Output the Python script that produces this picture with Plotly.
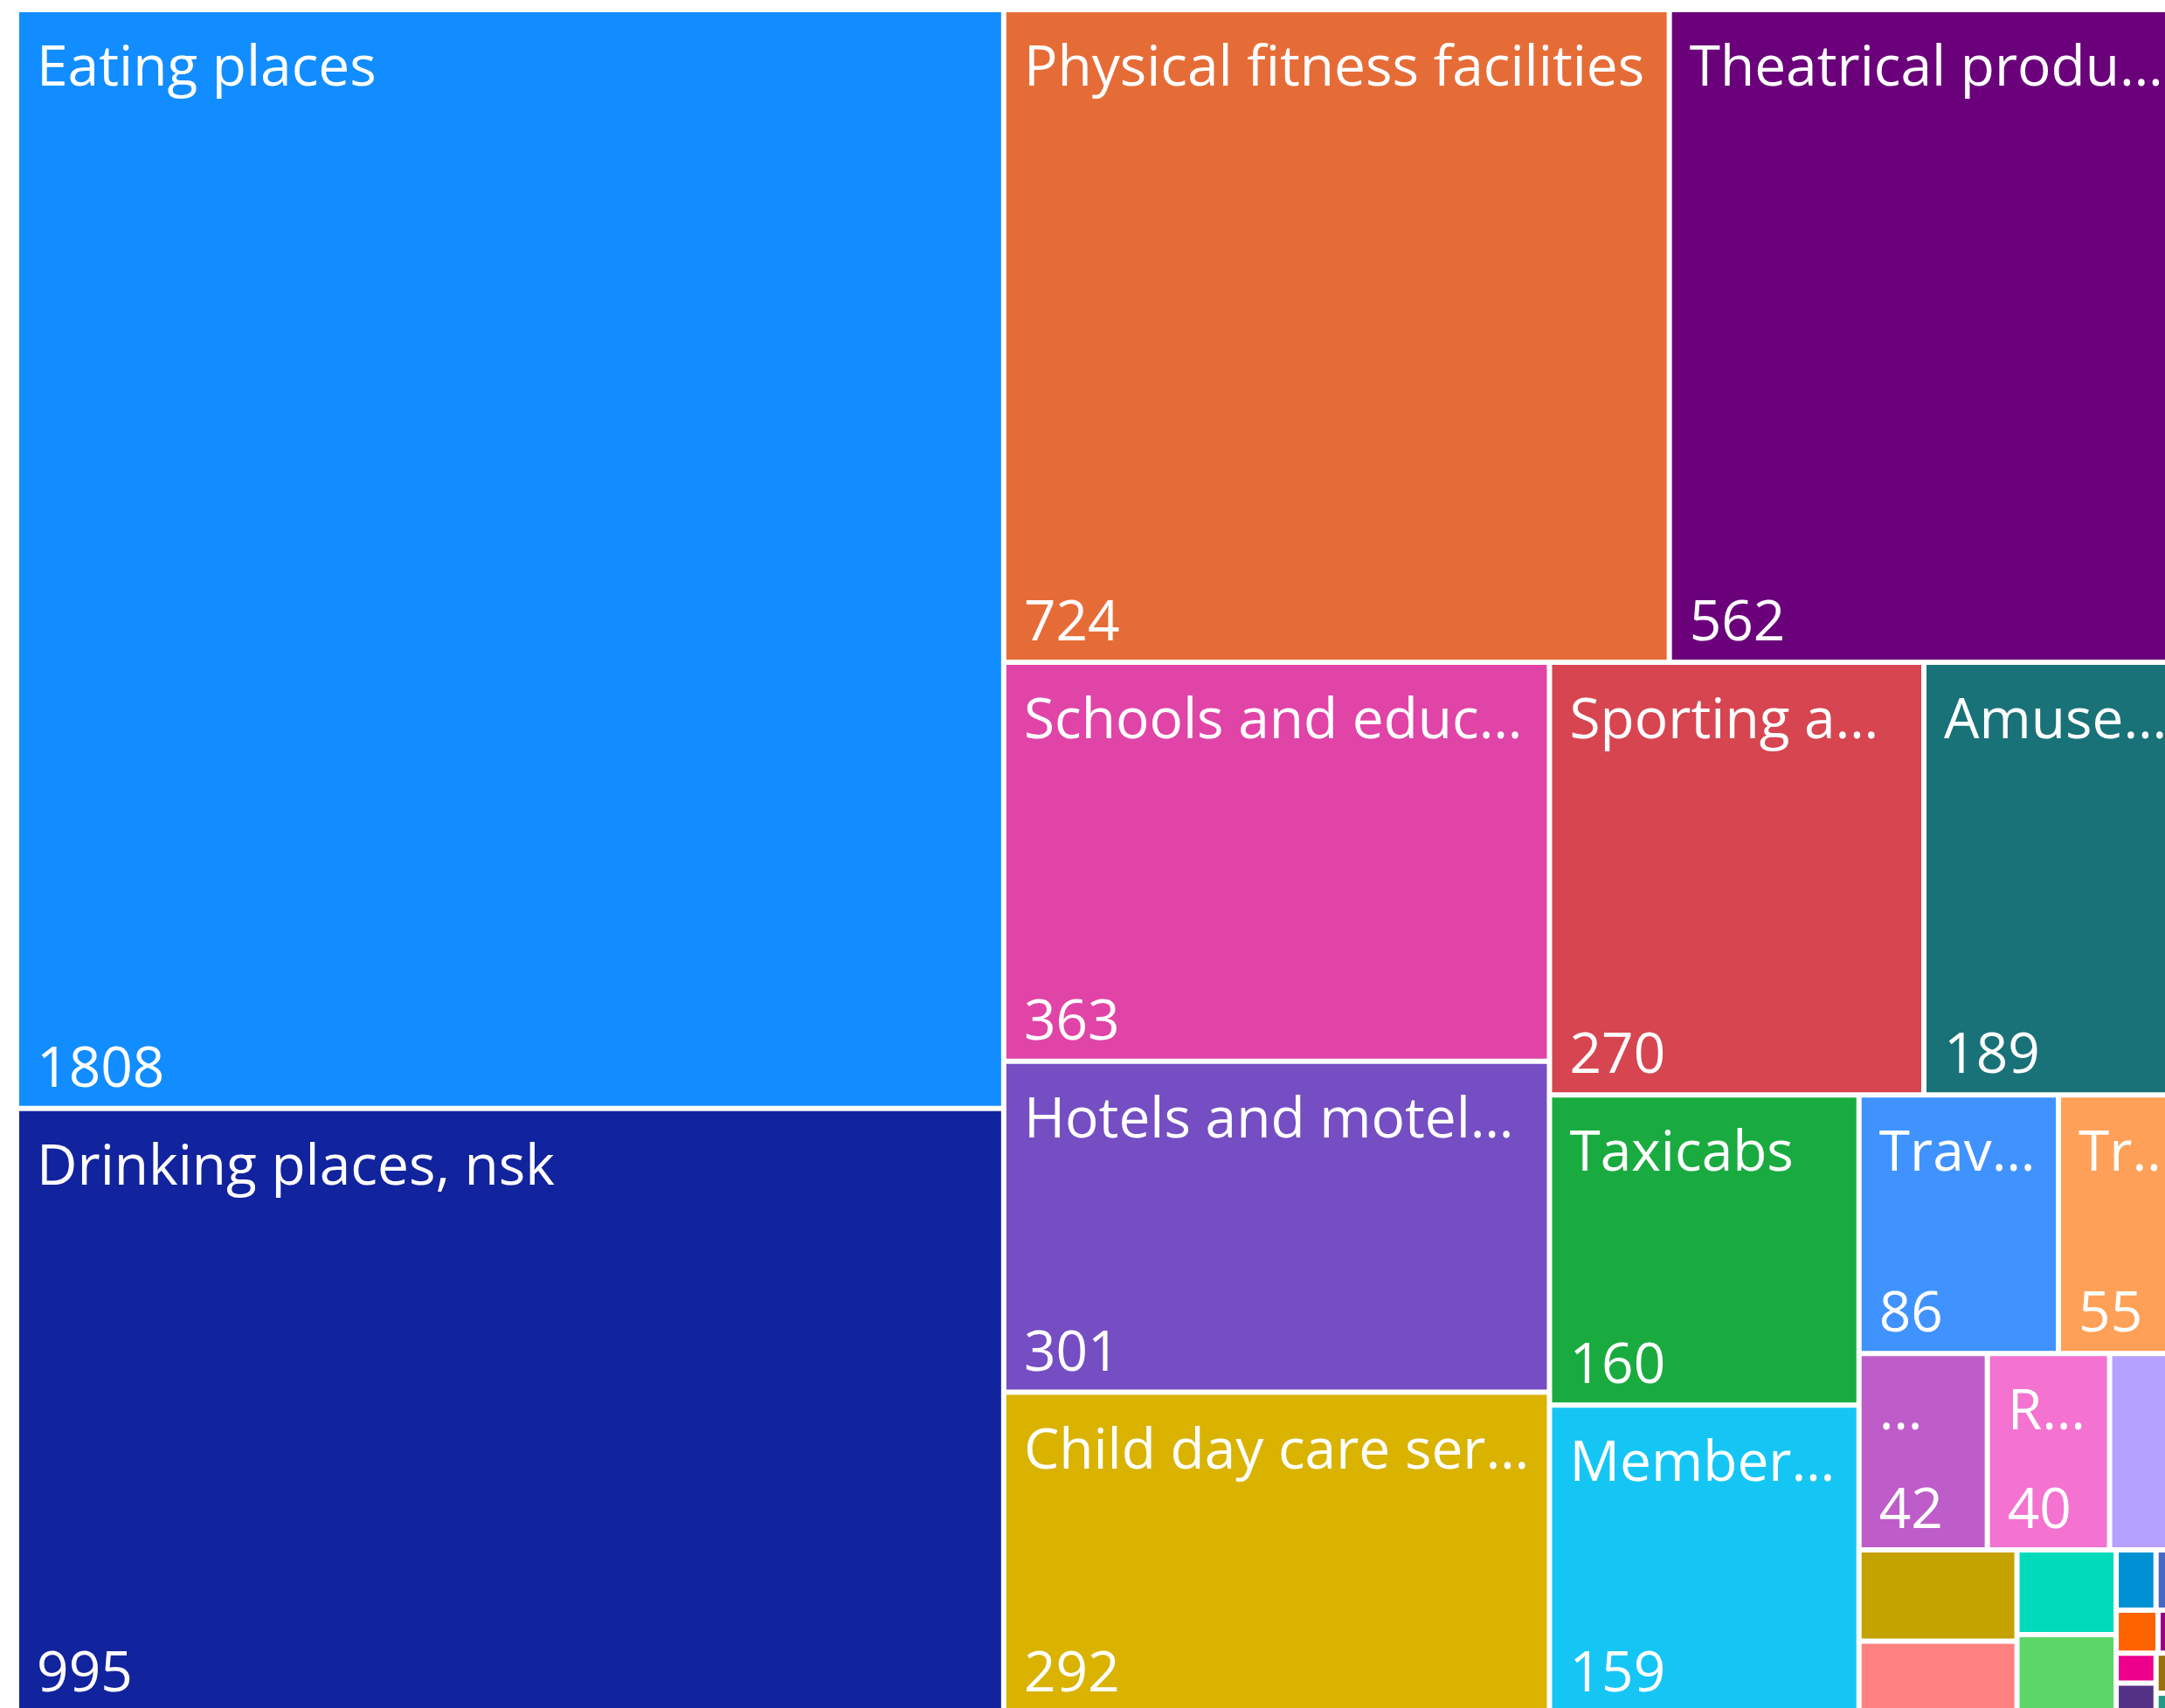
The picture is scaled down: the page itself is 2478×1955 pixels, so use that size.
import plotly.graph_objects as go

# Industry categories (long names shortened the way they appear in the tiles)
categories = [
    "Eating places", "Drinking places, nsk", "Physical fitness facilities",
    "Theatrical produ…", "Schools and educ…", "Hotels and motel…",
    "Child day care ser…", "Sporting a…", "Amuse…", "Taxicabs", "Member…",
    "Trav…", "Tr…", "…", "R…",
    "", "", "", "", "", "", "", "", "", "", "", "", "", "",
]
counts = [
    1808, 995, 724, 562, 363, 301, 292, 270, 189, 160, 159,
    86, 55, 42, 40,
    25, 24, 19, 14, 13, 4, 3, 3, 2, 2, 2, 1, 1, 1,
]
palette = [
    "#118DFF", "#12239E", "#E66C37", "#6B007B", "#E044A7", "#744EC2",
    "#D9B300", "#D64550", "#197278", "#1AAB40", "#15C6F4", "#4092FF",
    "#FFA058", "#BE5DC9", "#F472D0", "#B5A1FF", "#C4A200", "#FF8080",
    "#00DBBC", "#5BD667", "#0091D5", "#4668C5", "#FF6300", "#99008A",
    "#EC008C", "#533285", "#99700A", "#FF4141", "#1F9A85",
]

ids = [f"node{i}" for i in range(len(counts))]
parents = [""] * len(counts)
show_text = [v >= 40 for v in counts]

FONT = dict(family="Segoe UI, Open Sans, sans-serif", size=64, color="white")
LEAD = "\u2009\u200a"

common = dict(
    ids=ids, labels=categories, parents=parents, values=counts,
    sort=True,
    tiling=dict(packing="squarify", squarifyratio=1.618034, pad=6),
    pathbar=dict(visible=False),
    hoverinfo="skip",
    textfont=FONT,
)

# Coloured tiles with the category name in the top-left corner
tiles = go.Treemap(
    **common,
    marker=dict(colors=palette, line=dict(width=0), pad=dict(t=0, l=0, r=0, b=0)),
    textposition="top left",
    texttemplate=[
        LEAD + "<span style='baseline-shift:-13px'>%{label}</span>" if s else ""
        for s in show_text
    ],
)

# Transparent overlay carrying the counts in the bottom-left corner
count_labels = go.Treemap(
    **common,
    marker=dict(colors=["rgba(0,0,0,0)"] * len(counts), line=dict(width=0),
                pad=dict(t=0, l=0, r=0, b=0)),
    textposition="bottom left",
    texttemplate=[LEAD + "%{value}" if s else "" for s in show_text],
)

fig = go.Figure([tiles, count_labels])
# The tile area runs slightly past the visible window on the right
fig.update_layout(
    width=2499, height=1958,
    margin=dict(l=22, t=14, r=0, b=0),
    paper_bgcolor="white",
    uniformtext=dict(minsize=64, mode="show"),
)
fig.write_html(
    "out.html",
    post_script="document.documentElement.style.overflow='hidden';"
                "document.body.style.overflow='hidden';",
)
